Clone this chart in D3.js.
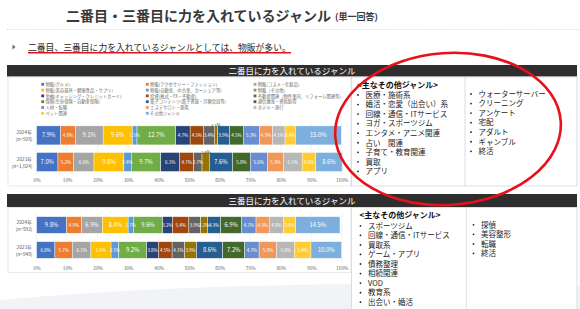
<!DOCTYPE html>
<html>
<head>
<meta charset="utf-8">
<script src="https://cdn.jsdelivr.net/npm/d3@7/dist/d3.min.js"></script>
<style>
  body { margin: 0; background: #fff; }
  text { font-family: "Noto Sans CJK JP", "Noto Sans", sans-serif; }
</style>
</head>
<body>
<svg id="slide" width="580" height="309"></svg>
<script>
// ---- data ----
const years = ['2024年', '2023年'];
const secondN = ['(n=928)', '(n=1,024)'];
const thirdN = ['(n=592)', '(n=948)'];

const genres = [
    '物販(グルメ)', '物販(アクセサリー・ファッション)', '物販(コスメ・化粧品)',
    '物販(美容器具・健康食品・サプリ)', '物販(自動車、中古車、カーシェア等)', '物販（その他）',
    '金融(キャッシング・クレジットカード)', '投資(株式・FX・不動産)', '不動産関連（物件案内、リフォーム関連等）',
    '保険(生命保険・自動車保険)', '電子コンテンツ(電子書籍・月額会員等)', '通信教育・資格取得',
    '人材・転職', 'エステサロン・脱毛', 'ホテル・旅行',
    'ペット関連', 'その他ジャンル'
];
const colors = [
    '#4472C4', '#ED7D31', '#A5A5A5', '#FFC000', '#5B9BD5', '#70AD47',
    '#264478', '#9E480E', '#636363', '#997300', '#255E91', '#43682B',
    '#698ED0', '#F1975A', '#B7B7B7', '#FFCD33', '#7CAFDD'
];

const second2024 = [7.9, 4.8, 9.1, 9.6, 1.5, 12.7, 4.7, 4.5, 3.4, 1.1, 3.9, 4.5, 5.3, 4.3, 4.1, 3.4, 15.0];
const second2023 = [7.0, 5.2, 6.6, 9.8, 2.4, 9.7, 6.1, 4.7, 2.7, 2.4, 7.6, 5.8, 5.6, 5.3, 6.1, 4.5, 8.6];
const third2024 = [9.8, 4.9, 6.9, 8.4, 1.7, 9.6, 3.2, 5.4, 3.9, 2.2, 4.3, 6.9, 4.7, 4.3, 4.8, 3.9, 14.5];
const third2023 = [6.0, 5.7, 6.1, 6.6, 2.5, 9.2, 3.8, 4.5, 4.1, 3.9, 8.6, 7.2, 4.7, 5.8, 5.8, 5.4, 10.0];

const tickValues = [0, 10, 20, 30, 40, 50, 60, 70, 80, 90, 100];

const otherLeft1 = ['医療・施術系', '婚活・恋愛（出会い）系', '回線・通信・ITサービス', 'ヨガ・スポーツジム',
    'エンタメ・アニメ関連', '占い　関連', '子育て・教育関連', '買取', 'アプリ'];
const otherRight1 = ['ウォーターサーバー', 'クリーニング', 'アンケート', '宅配', 'アダルト', 'ギャンブル', '終活'];
const otherLeft2 = ['スポーツジム', '回線・通信・ITサービス', '買取系', 'ゲーム・アプリ', '債務整理',
    '相続関連', 'VOD', '教育系', '出会い・婚活'];
const otherRight2 = ['探偵', '美容整形', '転職', '終活'];

const svg = d3.select('#slide');

// faint slide decoration at the bottom
svg.append('path')
    .attr('d', 'M0,309 L0,300 Q250,278 580,286 L580,309 Z')
    .attr('fill', '#f1f3f6');

// ---- title area ----
svg.append('text')
    .attr('x', 66).attr('y', 20.5)
    .attr('font-size', 14).attr('font-weight', 'bold').attr('fill', '#383838')
    .text('二番目・三番目に力を入れているジャンル');
svg.append('text')
    .attr('x', 335).attr('y', 19.5)
    .attr('font-size', 9).attr('font-weight', 'bold').attr('fill', '#383838')
    .text('(単一回答)');

svg.append('line')
    .attr('x1', 7).attr('x2', 580).attr('y1', 29.5).attr('y2', 29.5)
    .attr('stroke', '#c8c8c8').attr('stroke-width', 0.8).attr('stroke-dasharray', '1.2,1.6');

svg.append('path')
    .attr('d', 'M12.5,44.5 L15.5,47 L12.5,49.5 Z')
    .attr('fill', '#5a6d8a');
svg.append('text')
    .attr('x', 28).attr('y', 50.5)
    .attr('font-size', 8.8).attr('fill', '#262626')
    .text('二番目、三番目に力を入れているジャンルとしては、物販が多い。');
svg.append('line')
    .attr('x1', 28).attr('x2', 291).attr('y1', 52.8).attr('y2', 52.8)
    .attr('stroke', '#e0141e').attr('stroke-width', 1.5);

class stackedBar {

    constructor(_config, _rows) {
        this.config = {
            top: _config.top,
            headerHeight: _config.headerHeight,
            boxBottom: _config.boxBottom,
            plotTop: _config.plotTop,
            plotBottom: _config.plotBottom,
            padInner: _config.padInner,
            axisY: _config.axisY,
            title: _config.title,
            nLabels: _config.nLabels,
            legend: _config.legend
        };
        this.rows = _rows;
        this.initVis();
    }

    initVis() {
        let vis = this;
        let c = vis.config;

        // header bar
        svg.append('rect')
            .attr('x', 7).attr('y', c.top)
            .attr('width', 570).attr('height', c.headerHeight)
            .attr('fill', '#2e2e2e');
        svg.append('text')
            .attr('x', 292).attr('y', c.top + c.headerHeight / 2 + 3)
            .attr('text-anchor', 'middle')
            .attr('font-size', 8.5).attr('fill', '#fff')
            .text(c.title);

        // chart box
        svg.append('rect')
            .attr('x', 8).attr('y', c.top + c.headerHeight + 0.5)
            .attr('width', 343).attr('height', c.boxBottom - c.top - c.headerHeight - 0.5)
            .attr('fill', '#fff').attr('stroke', '#dadada').attr('stroke-width', 0.6);

        vis.xScale = d3.scaleLinear()
            .domain([0, 100])
            .range([36.6, 341.8]);

        vis.yScale = d3.scaleBand()
            .domain(years)
            .range([c.plotTop, c.plotBottom])
            .paddingInner(c.padInner)
            .paddingOuter(c.padInner / 2);

        vis.chart = svg.append('g');

        // gridlines
        vis.chart.selectAll('.grid')
            .data(tickValues)
            .join('line')
            .attr('class', 'grid')
            .attr('x1', d => vis.xScale(d)).attr('x2', d => vis.xScale(d))
            .attr('y1', c.plotTop).attr('y2', c.plotBottom)
            .attr('stroke', '#e6e6e6').attr('stroke-width', 0.5);

        vis.xAxis = d3.axisBottom(vis.xScale)
            .tickValues(tickValues)
            .tickSize(0)
            .tickFormat(d => `${d}%`);

        vis.xAxisG = vis.chart.append('g')
            .attr('transform', `translate(0,${c.axisY})`);

        if (c.legend) vis.drawLegend();

        vis.updateVis();
    }

    drawLegend() {
        let vis = this;
        let colX = [42.7, 147.3, 255];
        let legend = vis.chart.selectAll('.legend')
            .data(genres)
            .join('g')
            .attr('class', 'legend')
            .attr('transform', (d, i) => `translate(${colX[i % 3]},${84.3 + Math.floor(i / 3) * 5.8})`);
        legend.append('rect')
            .attr('x', -1.4).attr('y', -1.4)
            .attr('width', 2.8).attr('height', 2.8)
            .attr('fill', (d, i) => colors[i]);
        legend.append('text')
            .attr('x', 2.8).attr('y', 1.6)
            .attr('font-size', 4.3).attr('fill', '#6b6b6b')
            .text(d => d);
    }

    updateVis() {
        let vis = this;

        // stack every row into segments
        vis.segments = [];
        vis.rows.forEach((values, r) => {
            let acc = 0;
            values.forEach((v, i) => {
                vis.segments.push({
                    year: years[r], index: i, value: v, x0: acc, x1: acc + v,
                    prev: i > 0 ? values[i - 1] : 99
                });
                acc += v;
            });
        });

        vis.renderVis();
    }

    renderVis() {
        let vis = this;
        let c = vis.config;
        let bw = vis.yScale.bandwidth();

        vis.chart.selectAll('.seg')
            .data(vis.segments)
            .join('rect')
            .attr('class', 'seg')
            .attr('x', d => vis.xScale(d.x0))
            .attr('y', d => vis.yScale(d.year))
            .attr('width', d => vis.xScale(d.x1) - vis.xScale(d.x0))
            .attr('height', bw)
            .attr('fill', d => colors[d.index])
            .attr('stroke', '#fff').attr('stroke-width', 0.4);

        // narrow segments next to another narrow one get their label lifted
        let lifted = d => d.value < 2.5 && d.prev < 3.5;

        vis.chart.selectAll('.seg-label')
            .data(vis.segments)
            .join('text')
            .attr('class', 'seg-label')
            .attr('x', d => vis.xScale((d.x0 + d.x1) / 2))
            .attr('y', d => lifted(d) ? vis.yScale(d.year) + 1.3 : vis.yScale(d.year) + bw / 2 + 2)
            .attr('text-anchor', 'middle')
            .attr('font-size', d => lifted(d) ? 4.2 : (vis.xScale(d.x1) - vis.xScale(d.x0) > 21 ? 5.8 : 4.5))
            .attr('fill', d => lifted(d) ? '#404040' : '#fff')
            .text(d => `${d.value.toFixed(1)}%`);

        // year + n labels
        let yl = vis.chart.selectAll('.year-label')
            .data(years)
            .join('text')
            .attr('class', 'year-label')
            .attr('text-anchor', 'end')
            .attr('font-size', 4.8).attr('fill', '#555');
        yl.append('tspan')
            .attr('x', 32).attr('y', d => vis.yScale(d) + bw / 2 - 1)
            .text(d => d);
        yl.append('tspan')
            .attr('x', 32.5).attr('y', d => vis.yScale(d) + bw / 2 + 5.5)
            .text((d, i) => c.nLabels[i]);

        vis.xAxisG.call(vis.xAxis);
        vis.xAxisG.select('.domain').remove();
        vis.xAxisG.selectAll('text')
            .attr('dy', 0).attr('y', 2)
            .attr('font-size', 4.8).attr('fill', '#666')
            .attr('font-family', '"Noto Sans CJK JP", sans-serif');
    }
}

new stackedBar({
    top: 65, headerHeight: 11.5, boxBottom: 186,
    plotTop: 122.1, plotBottom: 175.3, padInner: 0.286, axisY: 180,
    title: '二番目に力を入れているジャンル', nLabels: secondN, legend: true
}, [second2024, second2023]);

new stackedBar({
    top: 194, headerHeight: 13, boxBottom: 272.5,
    plotTop: 212.5, plotBottom: 262.5, padInner: 0.336, axisY: 267.5,
    title: '三番目に力を入れているジャンル', nLabels: thirdN, legend: false
}, [third2024, third2023]);

// ---- "other genres" text boxes ----
function otherBox(top, bottom, dx, titleY, left, right, leftY, rightY) {
    let g = svg.append('g');
    g.append('rect')
        .attr('x', 351.5).attr('y', top)
        .attr('width', 225.5).attr('height', bottom - top)
        .attr('fill', '#fff').attr('stroke', '#c9d0da').attr('stroke-width', 0.7);
    g.append('line')
        .attr('x1', 465 + dx / 2).attr('x2', 465 + dx / 2).attr('y1', top).attr('y2', bottom)
        .attr('stroke', '#c9d0da').attr('stroke-width', 0.7);
    g.append('text')
        .attr('x', 357 + dx).attr('y', titleY + 2.6)
        .attr('font-size', 8).attr('font-weight', 'bold').attr('fill', '#111')
        .text('<主なその他ジャンル>');
    let cols = [
        { items: left, bx: 358 + dx, tx: 365.5 + dx, y0: leftY },
        { items: right, bx: 471 + dx, tx: 478.5 + dx, y0: rightY }
    ];
    cols.forEach(col => {
        col.items.forEach((t, i) => {
            g.append('circle')
                .attr('cx', col.bx).attr('cy', col.y0 + i * 9.55)
                .attr('r', 0.9).attr('fill', '#222');
            g.append('text')
                .attr('x', col.tx).attr('y', col.y0 + i * 9.55 + 2.8)
                .attr('font-size', 7.5).attr('fill', '#222')
                .text(t);
        });
    });
}

otherBox(77, 186, 0, 85, otherLeft1, otherRight1, 95, 94);
otherBox(207.5, 312, 2.5, 215.5, otherLeft2, otherRight2, 225.8, 224.8);

// red ellipse drawn over everything
svg.append('ellipse')
    .attr('cx', 448).attr('cy', 129)
    .attr('rx', 113).attr('ry', 76)
    .attr('transform', 'rotate(-4,448,129)')
    .attr('fill', 'none')
    .attr('stroke', '#e8101a').attr('stroke-width', 2.6);
</script>
</body>
</html>
